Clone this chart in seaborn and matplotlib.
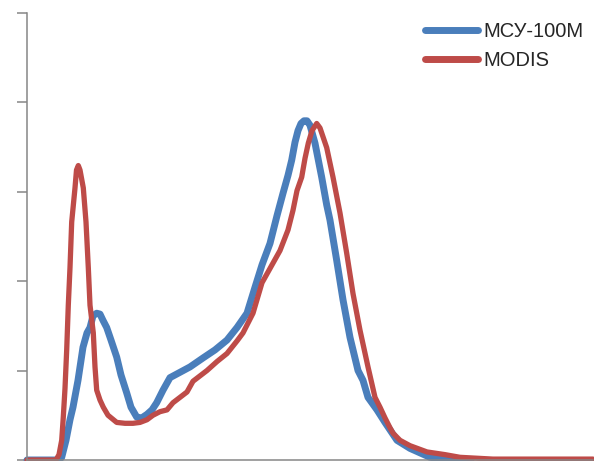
import pandas as pd
import matplotlib
matplotlib.use("Agg")
import matplotlib.pyplot as plt
import seaborn as sns

# ------ DATA ------ #

# MCY-100M histogram
msu_x = [0, 16, 17.35, 19.5, 21.5, 23, 25.5, 28, 30, 31.5, 33, 34.85, 36.5, 38,
         39.85, 42, 44.85, 47, 49.85, 52, 54.85, 57.35, 60, 62.5, 64.85, 68,
         71.5, 76.5, 81.5, 88, 94, 100, 105, 110, 114, 117.5, 121.5, 125, 128,
         130.5, 132.35, 134, 135.5, 137, 138.5, 140, 141.5, 144, 147.35,
         149.85, 151.5, 154.85, 158, 161.5, 165.5, 168, 170.5, 175, 179, 185,
         191.5, 201.5, 209, 216.5, 222]
msu_y = [0, 0, 0.03, 0.22, 0.45, 0.59, 0.89, 1.26, 1.42, 1.48, 1.61, 1.64, 1.63,
         1.56, 1.48, 1.34, 1.15, 0.95, 0.75, 0.59, 0.48, 0.47, 0.51, 0.56, 0.64,
         0.78, 0.92, 0.98, 1.04, 1.14, 1.23, 1.34, 1.48, 1.64, 1.93, 2.18, 2.42,
         2.73, 2.98, 3.18, 3.35, 3.55, 3.68, 3.76, 3.79, 3.79, 3.74, 3.54, 3.16,
         2.85, 2.68, 2.23, 1.79, 1.37, 1.00, 0.89, 0.70, 0.56, 0.42, 0.22, 0.13,
         0.03, 0.01, 0, 0]

# MODIS histogram
modis_x = [0, 14.5, 16, 17.35, 18.15, 19, 19.85, 20.65, 21.5, 22.35, 24, 24.75,
           25.65, 26.5, 28.15, 29.5, 30.65, 31.5, 33.15, 34, 34.85, 36.5, 38.15,
           40.5, 44.85, 49, 53, 56.5, 60, 63, 66.5, 70, 73, 76.5, 80, 83, 86.5,
           90, 95, 100, 105, 108, 113, 117.5, 121.5, 126.5, 130.5, 133, 135,
           137.35, 139, 140.65, 142.5, 144.85, 146.5, 149.85, 153, 156.5,
           159.85, 163, 166.5, 170.5, 174, 176.5, 179, 181.5, 183, 186.5,
           191.5, 200, 209, 216.5, 233, 283]
modis_y = [0, 0, 0.06, 0.22, 0.48, 0.80, 1.23, 1.73, 2.15, 2.66, 3.04, 3.24,
           3.29, 3.24, 3.04, 2.66, 2.15, 1.73, 1.42, 1.04, 0.78, 0.67, 0.59,
           0.50, 0.42, 0.41, 0.41, 0.42, 0.45, 0.50, 0.54, 0.56, 0.64, 0.70,
           0.76, 0.88, 0.94, 1.00, 1.10, 1.19, 1.33, 1.42, 1.64, 1.98, 2.14,
           2.34, 2.57, 2.79, 3.01, 3.16, 3.37, 3.54, 3.68, 3.76, 3.71, 3.49,
           3.16, 2.76, 2.31, 1.86, 1.45, 1.04, 0.70, 0.59, 0.47, 0.36, 0.30,
           0.22, 0.16, 0.09, 0.06, 0.03, 0.01, 0.01]

labels = ["МСУ-100М", "MODIS"]
colors = ["#4A7EBB", "#BE4B48"]

msu = pd.DataFrame({"x": msu_x, "y": msu_y})
modis = pd.DataFrame({"x": modis_x, "y": modis_y})

# ------ PLOT ------ #

sns.set_style("white")
plt.rcParams['font.family'] = ['Liberation Sans', 'DejaVu Sans']

fig = plt.figure(figsize=(5.94, 4.61), dpi=100)
ax = fig.add_axes([27 / 594, 1 / 461, 566 / 594, 447.5 / 461])

sns.lineplot(data=msu, x="x", y="y", ax=ax, color=colors[0], linewidth=5.0,
             label=labels[0], clip_on=False, solid_capstyle="round")
sns.lineplot(data=modis, x="x", y="y", ax=ax, color=colors[1], linewidth=3.8,
             label=labels[1], clip_on=False, solid_capstyle="round")

ax.set_xlim(0, 283)
ax.set_ylim(0, 5)
ax.set_xlabel("")
ax.set_ylabel("")
ax.set_xticks([])
ax.set_yticks([0, 1, 2, 3, 4, 5])
ax.set_yticklabels([])
ax.tick_params(axis="y", left=True, direction="out", length=7, width=1.1,
               color="#868686")

for side in ["top", "right"]:
    ax.spines[side].set_visible(False)
for side in ["left", "bottom"]:
    ax.spines[side].set_color("#868686")
    ax.spines[side].set_linewidth(1.1)

leg = ax.legend(loc="upper right", bbox_to_anchor=(1.0, 1.0), frameon=False,
                fontsize=14.5, handlelength=2.6, handletextpad=0.3,
                labelspacing=0.5, borderaxespad=0.05)
for line in leg.get_lines():
    line.set_linewidth(5.0)

fig.savefig("out.png", dpi=100)
